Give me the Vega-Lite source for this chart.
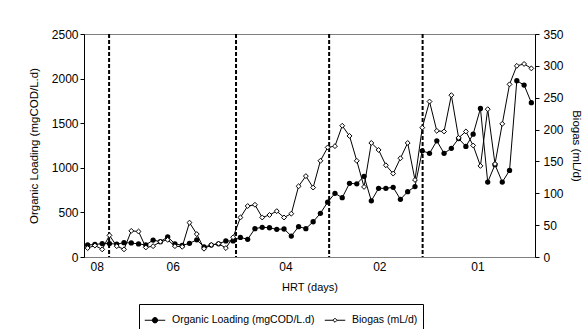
{
  "$schema": "https://vega.github.io/schema/vega-lite/v6.json",
  "autosize": {"type": "none"},
  "width": 451,
  "height": 223,
  "padding": {"left": 84, "top": 34, "right": 51, "bottom": 72},
  "background": "white",
  "config": {
    "font": "Liberation Sans",
    "view": {"stroke": "#808080", "strokeWidth": 1},
    "axis": {"grid": false, "labelFont": "Liberation Sans", "titleFont": "Liberation Sans", "titleFontWeight": "normal", "labelColor": "black", "titleColor": "black", "domainColor": "black", "tickColor": "black"}
  },
  "datasets": {
    "series": [
      {"i": 0, "ol": 135, "bg": 14}, {"i": 1, "ol": 140, "bg": 18}, {"i": 2, "ol": 150, "bg": 12}, {"i": 3, "ol": 150, "bg": 34},
      {"i": 4, "ol": 145, "bg": 17}, {"i": 5, "ol": 160, "bg": 12}, {"i": 6, "ol": 158, "bg": 41}, {"i": 7, "ol": 146, "bg": 40},
      {"i": 8, "ol": 135, "bg": 15}, {"i": 9, "ol": 190, "bg": 17}, {"i": 10, "ol": 172, "bg": 24}, {"i": 11, "ol": 225, "bg": 27},
      {"i": 12, "ol": 148, "bg": 17}, {"i": 13, "ol": 130, "bg": 16}, {"i": 14, "ol": 153, "bg": 54}, {"i": 15, "ol": 192, "bg": 36},
      {"i": 16, "ol": 112, "bg": 13}, {"i": 17, "ol": 134, "bg": 19}, {"i": 18, "ol": 148, "bg": 21}, {"i": 19, "ol": 180, "bg": 14},
      {"i": 20, "ol": 180, "bg": 31}, {"i": 21, "ol": 220, "bg": 62}, {"i": 22, "ol": 198, "bg": 80}, {"i": 23, "ol": 318, "bg": 82},
      {"i": 24, "ol": 333, "bg": 62}, {"i": 25, "ol": 328, "bg": 66}, {"i": 26, "ol": 310, "bg": 72}, {"i": 27, "ol": 314, "bg": 62},
      {"i": 28, "ol": 235, "bg": 68}, {"i": 29, "ol": 340, "bg": 111}, {"i": 30, "ol": 318, "bg": 127}, {"i": 31, "ol": 395, "bg": 109},
      {"i": 32, "ol": 490, "bg": 151}, {"i": 33, "ol": 615, "bg": 172}, {"i": 34, "ol": 714, "bg": 174}, {"i": 35, "ol": 665, "bg": 206},
      {"i": 36, "ol": 826, "bg": 190}, {"i": 37, "ol": 820, "bg": 151}, {"i": 38, "ol": 905, "bg": 110}, {"i": 39, "ol": 630, "bg": 179},
      {"i": 40, "ol": 770, "bg": 168}, {"i": 41, "ol": 770, "bg": 144}, {"i": 42, "ol": 781, "bg": 131}, {"i": 43, "ol": 647, "bg": 155},
      {"i": 44, "ol": 732, "bg": 179}, {"i": 45, "ol": 790, "bg": 121}, {"i": 46, "ol": 1190, "bg": 203}, {"i": 47, "ol": 1162, "bg": 244},
      {"i": 48, "ol": 1302, "bg": 198}, {"i": 49, "ol": 1162, "bg": 197}, {"i": 50, "ol": 1218, "bg": 254}, {"i": 51, "ol": 1328, "bg": 187},
      {"i": 52, "ol": 1240, "bg": 197}, {"i": 53, "ol": 1377, "bg": 175}, {"i": 54, "ol": 1665, "bg": 143}, {"i": 55, "ol": 840, "bg": 232},
      {"i": 56, "ol": 1035, "bg": 146}, {"i": 57, "ol": 840, "bg": 209}, {"i": 58, "ol": 970, "bg": 271}, {"i": 59, "ol": 1976, "bg": 300},
      {"i": 60, "ol": 1928, "bg": 303}, {"i": 61, "ol": 1730, "bg": 296}
    ],
    "phases": [{"i": 2.95}, {"i": 20.4}, {"i": 33.2}, {"i": 46.05}]
  },
  "encoding": {
    "x": {
      "field": "i", "type": "quantitative",
      "scale": {"domain": [-0.5, 61.5], "nice": false, "zero": false},
      "axis": {
        "title": "HRT (days)", "titleFontSize": 11, "titlePadding": 9,
        "values": [1.24, 11.7, 27.2, 40.1, 53.6],
        "labelExpr": "datum.value < 5 ? '08' : datum.value < 20 ? '06' : datum.value < 30 ? '04' : datum.value < 45 ? '02' : '01'",
        "labelFontSize": 12, "labelPadding": 4, "ticks": false, "domain": false
      }
    }
  },
  "layer": [
    {
      "data": {"name": "phases"},
      "mark": {"type": "rule", "color": "black", "strokeWidth": 2, "strokeDash": [4, 2]},
      "encoding": {}
    },
    {
      "data": {"name": "series"},
      "transform": [{"fold": ["ol"], "as": ["series", "v"]}],
      "encoding": {
        "y": {
          "field": "v", "type": "quantitative",
          "scale": {"domain": [0, 2500], "nice": false},
          "axis": {"orient": "left", "title": "Organic Loading (mgCOD/L.d)", "titleFontSize": 11.5, "titlePadding": 12, "values": [0, 500, 1000, 1500, 2000, 2500], "format": "d", "labelFontSize": 12, "labelPadding": 2, "tickSize": 4}
        }
      },
      "layer": [
        {
          "mark": {"type": "line", "strokeWidth": 1},
          "encoding": {
            "color": {
              "field": "series", "type": "nominal",
              "scale": {"domain": ["ol", "bg"], "range": ["black", "black"]},
              "legend": {
                "title": null, "orient": "none", "legendX": 55, "legendY": 270, "direction": "horizontal",
                "strokeColor": "black", "padding": 5, "symbolSize": 420, "symbolStrokeWidth": 1,
                "labelFont": "Liberation Sans", "labelFontSize": 10.5, "labelColor": "black", "labelOffset": 6, "columnPadding": 7,
                "labelExpr": "datum.value === 'ol' ? 'Organic Loading (mgCOD/L.d)' : 'Biogas (mL/d)'",
                "encode": {
                  "symbols": {
                    "update": {
                      "shape": {"signal": "datum.value === 'ol' ? 'M-1,0H1M-0.26,0A0.26,0.26,0,1,1,0.26,0A0.26,0.26,0,1,1,-0.26,0Z' : 'M-1,0H-0.2M0.2,0H1M-0.2,0L0,-0.2L0.2,0L0,0.2Z'"},
                      "fill": {"signal": "datum.value === 'ol' ? 'black' : 'white'"},
                      "stroke": {"value": "black"},
                      "strokeWidth": {"value": 1}
                    }
                  }
                }
              }
            }
          }
        },
        {
          "mark": {"type": "point", "shape": "circle", "filled": true, "color": "black", "size": 28, "opacity": 1}
        }
      ]
    },
    {
      "data": {"name": "series"},
      "transform": [{"fold": ["bg"], "as": ["series", "v"]}],
      "encoding": {
        "y": {
          "field": "v", "type": "quantitative",
          "scale": {"domain": [0, 350], "nice": false},
          "axis": {"orient": "right", "title": "Biogas (mL/d)", "titleFontSize": 11.5, "titlePadding": 7, "values": [0, 50, 100, 150, 200, 250, 300, 350], "labelFontSize": 12, "labelPadding": 4, "tickSize": 4}
        }
      },
      "layer": [
        {
          "mark": {"type": "line", "strokeWidth": 1},
          "encoding": {
            "color": {"field": "series", "type": "nominal"}
          }
        },
        {
          "mark": {"type": "point", "shape": "diamond", "filled": true, "fill": "white", "stroke": "black", "strokeWidth": 1, "size": 24, "opacity": 1}
        }
      ]
    }
  ],
  "resolve": {"scale": {"y": "independent"}}
}
